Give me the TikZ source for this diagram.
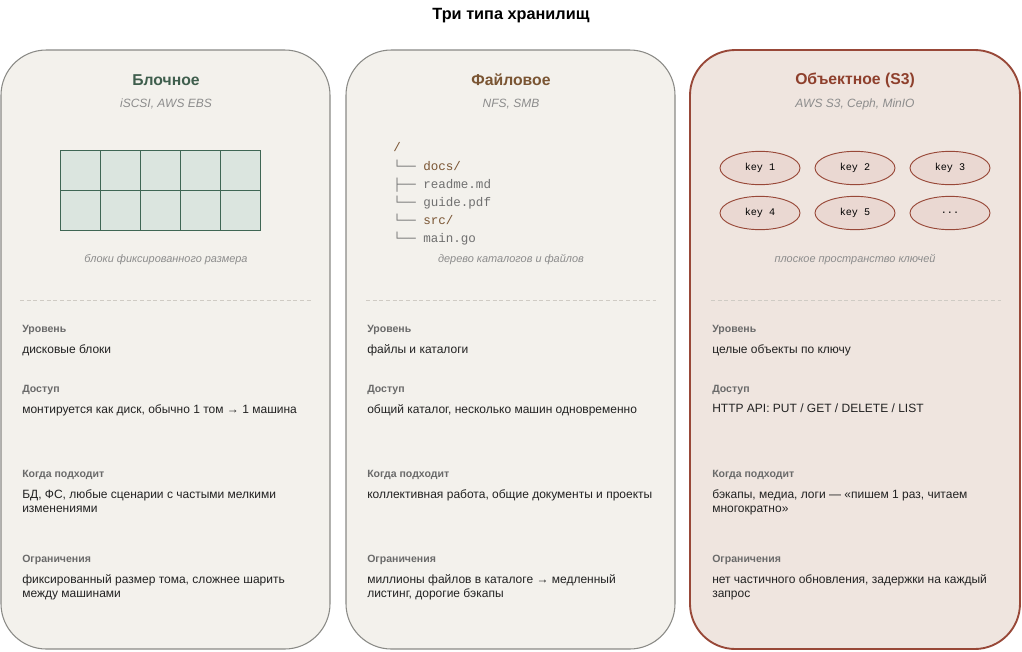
\documentclass[tikz,border=0pt]{standalone}
\usepackage{fontspec}
\setmainfont{Liberation Sans}
\setmonofont{Liberation Mono}
\usetikzlibrary{shapes.geometric}

\definecolor{cardfill}{HTML}{F3F1EC}
\definecolor{cardline}{HTML}{8A8A86}
\definecolor{objfill}{HTML}{EFE5DF}
\definecolor{objline}{HTML}{984838}
\definecolor{blockhead}{HTML}{3F5E4D}
\definecolor{filehead}{HTML}{7A5533}
\definecolor{objhead}{HTML}{8E3F2C}
\definecolor{cellfill}{HTML}{DBE5DF}
\definecolor{cellline}{HTML}{3F6654}
\definecolor{keyfill}{HTML}{EAD8D2}
\definecolor{subgray}{HTML}{8C8C8C}
\definecolor{labgray}{HTML}{6A6A6A}
\definecolor{valink}{HTML}{222222}
\definecolor{dashgray}{HTML}{CFCBC4}
\definecolor{treegray}{HTML}{707070}

\tikzset{
  card/.style={draw=cardline,fill=cardfill,line width=0.8pt,rounded corners=34pt},
  cardhead/.style={font=\bfseries\fontsize{11.8}{13}\selectfont},
  cardsub/.style={font=\itshape\fontsize{9}{10}\selectfont,text=subgray},
  caption/.style={font=\itshape\fontsize{8.2}{9}\selectfont,text=subgray},
  rowlab/.style={anchor=base west,inner sep=0pt,font=\bfseries\fontsize{7.9}{9}\selectfont,text=labgray},
  rowval/.style={anchor=north west,inner sep=0pt,align=left,font=\fontsize{9}{10.6}\selectfont,text=valink},
  cell/.style={draw=cellline,fill=cellfill,line width=0.7pt,minimum size=30pt,inner sep=0pt},
  treeline/.style={anchor=base west,inner sep=0pt,font=\ttfamily\fontsize{9.4}{10}\selectfont,text=treegray},
  keynode/.style={ellipse,draw=objline,fill=keyfill,line width=0.7pt,minimum width=60pt,minimum height=25pt,inner sep=0pt,font=\ttfamily\fontsize{7.6}{9}\selectfont},
  sep/.style={draw=dashgray,dash pattern=on 3pt off 2pt,line width=0.6pt}
}

\begin{document}
\begin{tikzpicture}[x=0.75pt,y=-0.75pt]
  \useasboundingbox[fill=white] (0,0) rectangle (1022,651);

  \node[font=\bfseries\fontsize{12.2}{14}\selectfont] (title) at (511,16) {Три типа хранилищ};

  % cards
  \draw[card] (1,50) rectangle (330,649);
  \draw[card] (346,50) rectangle (675,649);
  \draw[card,draw=objline,fill=objfill,line width=1.4pt] (690,50) rectangle (1020,649);

  % block storage
  \node[cardhead,text=blockhead] (blockhead) at (166,80) {Блочное};
  \node[cardsub] (blocksub) at (166,104) {iSCSI, AWS EBS};
  \node[cell] (b1) at (80,170) {};
  \node[cell] (b2) at (120,170) {};
  \node[cell] (b3) at (160,170) {};
  \node[cell] (b4) at (200,170) {};
  \node[cell] (b5) at (240,170) {};
  \node[cell] (b6) at (80,210) {};
  \node[cell] (b7) at (120,210) {};
  \node[cell] (b8) at (160,210) {};
  \node[cell] (b9) at (200,210) {};
  \node[cell] (b10) at (240,210) {};
  \node[caption] (blockcap) at (166,260) {блоки фиксированного размера};
  \draw[sep] (20,300) -- (311,300);

  \node[rowlab] (bl1) at (22,332) {Уровень};
  \node[rowval] (bv1) at (22,344) {дисковые блоки};
  \node[rowlab] (bl2) at (22,392) {Доступ};
  \node[rowval] (bv2) at (22,404) {монтируется как диск, обычно 1 том → 1 машина};
  \node[rowlab] (bl3) at (22,477) {Когда подходит};
  \node[rowval] (bv3) at (22,489) {БД, ФС, любые сценарии с частыми мелкими\\изменениями};
  \node[rowlab] (bl4) at (22,562) {Ограничения};
  \node[rowval] (bv4) at (22,574) {фиксированный размер тома, сложнее шарить\\между машинами};

  % file storage
  \node[cardhead,text=filehead] (filehead) at (511,80) {Файловое};
  \node[cardsub] (filesub) at (511,104) {NFS, SMB};
  \node[treeline,text=filehead] (t0) at (393,151) {/};
  \node[treeline] (t1) at (393,170) {└── \textcolor{filehead}{docs/}};
  \node[treeline] (t2) at (393,188) {├── readme.md};
  \node[treeline] (t3) at (393,206) {└── guide.pdf};
  \node[treeline] (t4) at (393,224) {└── \textcolor{filehead}{src/}};
  \node[treeline] (t5) at (393,242) {└── main.go};
  \node[caption] (filecap) at (511,260) {дерево каталогов и файлов};
  \draw[sep] (366,300) -- (656,300);

  \node[rowlab] (fl1) at (367,332) {Уровень};
  \node[rowval] (fv1) at (367,344) {файлы и каталоги};
  \node[rowlab] (fl2) at (367,392) {Доступ};
  \node[rowval] (fv2) at (367,404) {общий каталог, несколько машин одновременно};
  \node[rowlab] (fl3) at (367,477) {Когда подходит};
  \node[rowval] (fv3) at (367,489) {коллективная работа, общие документы и проекты};
  \node[rowlab] (fl4) at (367,562) {Ограничения};
  \node[rowval] (fv4) at (367,574) {миллионы файлов в каталоге → медленный\\листинг, дорогие бэкапы};

  % object storage
  \node[cardhead,text=objhead] (objhead) at (855,80) {Объектное (S3)};
  \node[cardsub] (objsub) at (855,104) {AWS S3, Ceph, MinIO};
  \node[keynode] (k1) at (760,168) {key 1};
  \node[keynode] (k2) at (855,168) {key 2};
  \node[keynode] (k3) at (950,168) {key 3};
  \node[keynode] (k4) at (760,213) {key 4};
  \node[keynode] (k5) at (855,213) {key 5};
  \node[keynode] (k6) at (950,213) {...};
  \node[caption] (objcap) at (855,260) {плоское пространство ключей};
  \draw[sep] (711,300) -- (1001,300);

  \node[rowlab] (ol1) at (712,332) {Уровень};
  \node[rowval] (ov1) at (712,344) {целые объекты по ключу};
  \node[rowlab] (ol2) at (712,392) {Доступ};
  \node[rowval] (ov2) at (712,404) {HTTP API: PUT / GET / DELETE / LIST};
  \node[rowlab] (ol3) at (712,477) {Когда подходит};
  \node[rowval] (ov3) at (712,489) {бэкапы, медиа, логи — «пишем 1 раз, читаем\\многократно»};
  \node[rowlab] (ol4) at (712,562) {Ограничения};
  \node[rowval] (ov4) at (712,574) {нет частичного обновления, задержки на каждый\\запрос};
\end{tikzpicture}
\end{document}
